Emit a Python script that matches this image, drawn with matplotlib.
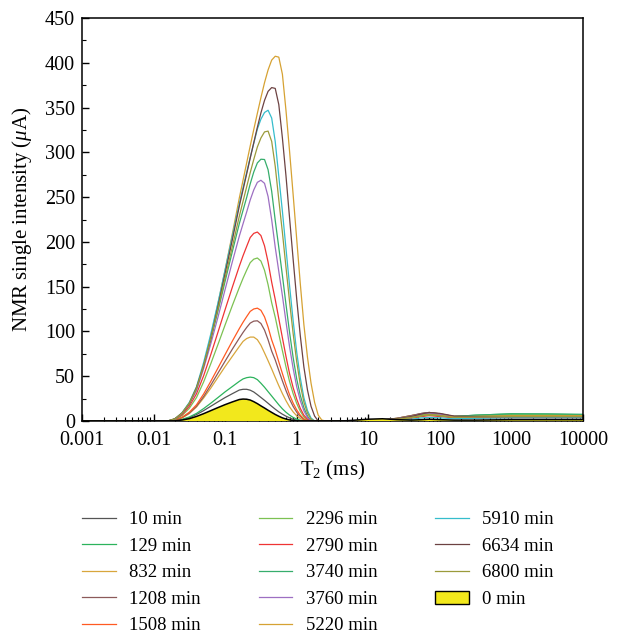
import matplotlib
matplotlib.use("Agg")
import matplotlib.pyplot as plt
from matplotlib.patches import Patch
from matplotlib.ticker import LogLocator, MultipleLocator, NullFormatter

plt.rcParams['font.family'] = ['Liberation Serif', 'DejaVu Serif']
plt.rcParams['mathtext.fontset'] = 'custom'
plt.rcParams['mathtext.rm'] = 'Liberation Serif'
plt.rcParams['mathtext.it'] = 'Liberation Serif:italic'

# Relaxation time T2 (ms)
t2_ms = [0.001,
         0.01, 0.0126, 0.0158, 0.02, 0.0251, 0.0316, 0.0398, 0.0501, 0.0631, 0.0794, 0.1, 0.126,
         0.158, 0.178, 0.2, 0.224, 0.251, 0.282, 0.316, 0.355, 0.398, 0.447, 0.501, 0.562,
         0.631, 0.708, 0.794, 0.891, 1.0, 1.122, 1.259, 1.413, 1.585, 1.778, 1.995, 2.239, 2.512,
         3.16, 5.01, 10.0, 15.8, 25.1, 39.8, 56.2, 70.8, 100.0, 158.0, 316.0, 1000.0, 3162.0, 10000.0]

# NMR signal intensity (uA) at each curing time
s_0 = [0, 0, 0, 0, 0.2, 1.1, 2.6, 5.1, 8.2, 11.6, 15.0, 18.3, 21.3,
       24.0, 24.5, 24.3, 23.4, 21.6, 19.4, 16.9, 14.5, 12.0, 9.6, 7.3, 5.3,
       3.5, 2.2, 1.2, 0.5, 0.1, 0, 0, 0, 0, 0, 0, 0, 0,
       0, 0.3, 2.0, 2.5, 1.5, 1.0, 1.5, 2.0, 1.5, 1.0, 1.0, 1.5, 1.5, 1.5]
s_10 = [0, 0, 0, 0, 0.3, 1.6, 3.7, 7.2, 11.6, 16.5, 21.4, 26.2, 30.5,
        34.6, 35.4, 35.4, 34.4, 32.4, 29.4, 26.3, 23.1, 19.8, 16.4, 13.2, 10.2,
        7.6, 5.4, 3.5, 2.0, 0.9, 0.3, 0, 0, 0, 0, 0, 0, 0,
        0, 0, 1.0, 1.5, 3.0, 6.0, 8.5, 9.5, 8.0, 5.0, 4.5, 4.5, 4.5, 4.5]
s_129 = [0, 0, 0, 0, 0.4, 1.9, 4.5, 8.5, 13.9, 19.9, 26.2, 32.6, 38.5,
         44.3, 47.0, 48.4, 49.0, 48.4, 46.2, 42.2, 37.7, 32.8, 27.9, 23.0, 18.1,
         13.6, 9.8, 6.6, 4.0, 2.1, 0.8, 0.1, 0, 0, 0, 0, 0, 0,
         0, 0, 0.5, 1.0, 2.0, 4.0, 6.0, 7.0, 6.0, 5.0, 6.5, 8.0, 7.5, 7.0]
s_832 = [0, 0, 0, 0, 0.8, 3.5, 8.3, 15.7, 25.7, 36.8, 48.8, 60.8, 72.2,
         83.3, 88.9, 92.1, 93.7, 93.7, 90.8, 84.6, 76.0, 67.3, 58.1, 48.7, 39.4,
         30.6, 22.7, 15.8, 10.2, 5.8, 2.8, 1.0, 0.2, 0, 0, 0, 0, 0,
         0, 0, 0.5, 1.0, 3.0, 6.0, 8.0, 8.5, 7.0, 5.0, 5.5, 6.0, 6.0, 6.0]
s_1208 = [0, 0, 0, 0, 0.9, 3.9, 8.9, 16.5, 27.3, 40.1, 53.5, 66.9, 80.2,
          92.6, 98.9, 104.5, 109.3, 111.5, 111.9, 108.9, 101.5, 90.7, 78.0, 68.2, 56.4,
          44.8, 34.0, 24.3, 16.3, 9.8, 5.1, 1.9, 0.5, 0, 0, 0, 0, 0,
          0, 0, 0.5, 1.0, 3.0, 6.0, 8.5, 9.5, 8.0, 5.0, 5.0, 5.0, 5.0, 5.0]
s_1508 = [0, 0, 0, 0, 1.0, 4.3, 9.8, 18.1, 30.2, 44.4, 59.2, 74.3, 89.2,
          103.3, 110.3, 116.6, 122.4, 125.1, 126.0, 123.6, 116.3, 104.9, 90.5, 79.3, 66.0,
          53.0, 40.6, 29.3, 20.0, 12.4, 6.5, 2.4, 0.6, 0, 0, 0, 0, 0,
          0, 0, 0.5, 1.0, 2.0, 4.0, 6.0, 7.0, 6.5, 4.5, 4.0, 4.0, 4.0, 4.0]
s_2296 = [0, 0, 0, 0, 1.5, 6.2, 14.2, 26.2, 43.7, 64.1, 85.5, 107.4, 128.9,
          149.2, 159.4, 168.5, 176.8, 180.7, 182.0, 178.6, 168.3, 152.2, 132.0, 115.9, 97.1,
          78.5, 60.5, 44.1, 30.6, 19.6, 10.9, 4.6, 1.4, 0, 0, 0, 0, 0,
          0, 0, 0.5, 1.0, 2.5, 5.0, 7.0, 8.0, 7.0, 5.0, 5.5, 7.0, 7.0, 6.5]
s_2790 = [0, 0, 0, 0, 1.7, 7.2, 16.5, 30.4, 50.6, 74.3, 99.2, 124.5, 149.4,
          173.0, 184.6, 195.0, 204.9, 209.5, 211.0, 207.1, 195.6, 177.5, 155.0, 135.7, 114.2,
          92.9, 72.1, 53.0, 37.3, 24.4, 14.1, 6.5, 2.1, 0, 0, 0, 0, 0,
          0, 0, 0.5, 1.0, 1.5, 3.0, 5.0, 6.0, 5.0, 3.5, 3.5, 3.5, 3.5, 3.5]
s_3740 = [0, 0, 0, 0, 2.2, 8.8, 20.0, 35.5, 61.9, 91.2, 122.8, 156.2, 189.1,
          220.6, 235.4, 249.7, 264.8, 278.0, 288.2, 292.3, 292.0, 280.6, 256.5, 224.0, 193.7,
          162.5, 130.2, 99.1, 71.0, 46.9, 28.6, 14.9, 5.5, 0.1, 0, 0, 0, 0,
          0, 0, 0.5, 1.0, 2.0, 4.0, 6.0, 7.0, 6.0, 5.0, 6.5, 8.0, 8.0, 7.5]
s_3760 = [0, 0, 0, 0, 2.1, 8.4, 18.9, 33.9, 58.7, 86.4, 116.0, 147.0, 177.7,
          206.6, 220.3, 233.5, 246.8, 258.0, 266.5, 268.8, 265.4, 250.7, 224.7, 194.0, 167.0,
          139.9, 110.9, 83.1, 58.8, 38.2, 22.7, 11.4, 4.0, 0, 0, 0, 0, 0,
          0, 0, 0.5, 1.0, 2.5, 5.0, 8.0, 9.0, 7.5, 5.0, 5.0, 5.0, 5.0, 5.0]
s_5220 = [0, 0, 0, 0, 2.7, 9.1, 19.7, 37.8, 62.2, 94.0, 131.0, 169.1, 208.9,
          249.3, 269.0, 288.3, 307.1, 325.4, 343.6, 361.0, 377.8, 392.0, 403.0, 407.3, 406.3,
          387.2, 346.8, 301.5, 252.9, 203.0, 153.3, 107.7, 71.3, 42.3, 20.8, 6.6, 1.1, 0,
          0, 0, 0.5, 1.0, 2.0, 4.0, 6.0, 7.0, 6.0, 4.5, 5.0, 6.0, 6.0, 6.0]
s_5910 = [0, 0, 0, 0, 2.5, 9.4, 20.8, 38.2, 65.4, 97.4, 131.9, 168.8, 206.3,
          242.8, 260.5, 277.7, 294.3, 310.0, 326.0, 337.0, 344.5, 347.0, 338.3, 312.0, 273.0,
          234.1, 192.5, 151.3, 112.1, 76.9, 48.2, 26.0, 11.7, 3.3, 0.2, 0, 0, 0,
          0, 0, 0.3, 0.5, 1.0, 2.0, 3.5, 4.0, 3.5, 2.5, 3.0, 3.5, 3.5, 3.5]
s_6634 = [0, 0, 0, 0, 2.5, 9.0, 19.4, 36.9, 61.8, 92.1, 127.6, 164.7, 202.2,
          240.2, 258.3, 276.0, 293.5, 310.7, 328.0, 344.0, 358.0, 368.1, 372.3, 371.4, 353.3,
          316.0, 273.7, 227.0, 180.7, 136.1, 95.3, 60.4, 34.7, 16.4, 5.5, 0, 0, 0,
          0, 0, 0.5, 1.0, 2.5, 5.0, 8.0, 9.5, 8.5, 5.5, 5.0, 5.0, 5.0, 5.0]
s_6800 = [0, 0, 0, 0, 2.3, 8.9, 19.8, 36.2, 62.2, 92.3, 125.1, 160.1, 194.6,
          228.9, 245.5, 261.6, 277.3, 292.0, 306.0, 316.0, 322.8, 323.7, 312.2, 284.5, 247.0,
          210.6, 171.6, 133.5, 97.8, 66.1, 40.6, 21.1, 8.9, 2.1, 0, 0, 0, 0,
          0, 0, 0.5, 1.0, 2.0, 4.0, 6.0, 7.0, 6.0, 4.0, 4.5, 5.0, 5.0, 5.0]

line_labels = ['10 min', '129 min', '832 min', '1208 min', '1508 min',
               '2296 min', '2790 min', '3740 min', '3760 min', '5220 min',
               '5910 min', '6634 min', '6800 min']
line_series = [s_10, s_129, s_832, s_1208, s_1508,
               s_2296, s_2790, s_3740, s_3760, s_5220,
               s_5910, s_6634, s_6800]
line_colors = ['#555555', '#2cb35c', '#d8a63c', '#8c5a5a', '#ff5a22',
               '#7cc152', '#ef3434', '#36ad6c', '#9d6fc2', '#d6a233',
               '#35bdcc', '#6c4242', '#9b9b3b']
fill_label = '0 min'

x_ticks = [0.001, 0.01, 0.1, 1, 10, 100, 1000, 10000]
x_ticklabels = ['0.001', '0.01', '0.1', '1', '10', '100', '1000', '10000']

fig = plt.figure(figsize=(6.19, 6.37), dpi=100)
ax = fig.add_axes([82 / 619, 216 / 637, 501 / 619, 403 / 637])

handles = []
for lab, col, vals in zip(line_labels, line_colors, line_series):
    ln, = ax.plot(t2_ms, vals, color=col, lw=0.9, label=lab, zorder=2)
    handles.append(ln)

ax.fill_between(t2_ms, 0, s_0, facecolor='#f2e81c', edgecolor='none', zorder=3)
ax.plot(t2_ms, s_0, color='black', lw=1.1, zorder=3.1)
handles.append(Patch(facecolor='#f2e81c', edgecolor='black', lw=1.0))
all_labels = line_labels + [fill_label]

ax.set_xscale('log')
ax.set_xlim(0.001, 10000)
ax.set_ylim(0, 450)
ax.set_xticks(x_ticks)
ax.set_xticklabels(x_ticklabels)
ax.xaxis.set_minor_locator(LogLocator(base=10, subs=[2, 3, 4, 5, 6, 7, 8, 9], numticks=30))
ax.xaxis.set_minor_formatter(NullFormatter())
ax.yaxis.set_major_locator(MultipleLocator(50))
ax.yaxis.set_minor_locator(MultipleLocator(25))
ax.tick_params(which='both', direction='in', top=False, right=False, labelsize=14.5)
ax.tick_params(which='major', length=5, width=1.0)
ax.tick_params(which='minor', length=3, width=0.8)
ax.tick_params(axis='x', which='major', pad=7)
ax.tick_params(axis='y', which='major', pad=5)
for sp in ax.spines.values():
    sp.set_linewidth(1.1)

ax.set_xlabel(r'T$_2$ (ms)', fontsize=15)
ax.xaxis.set_label_coords(0.5, -0.095)
ax.set_ylabel(r'NMR single intensity ($\mu$A)', fontsize=15)
ax.yaxis.set_label_coords(-0.095, 0.5)

fig.legend(handles, all_labels, ncol=3, loc='upper left',
           bbox_to_anchor=(82 / 619, (637 - 511) / 637), frameon=False,
           fontsize=13.5, handlelength=1.8, handletextpad=0.7,
           columnspacing=3.1, labelspacing=0.5, borderpad=0, borderaxespad=0)

fig.savefig('out.png', dpi=100)
